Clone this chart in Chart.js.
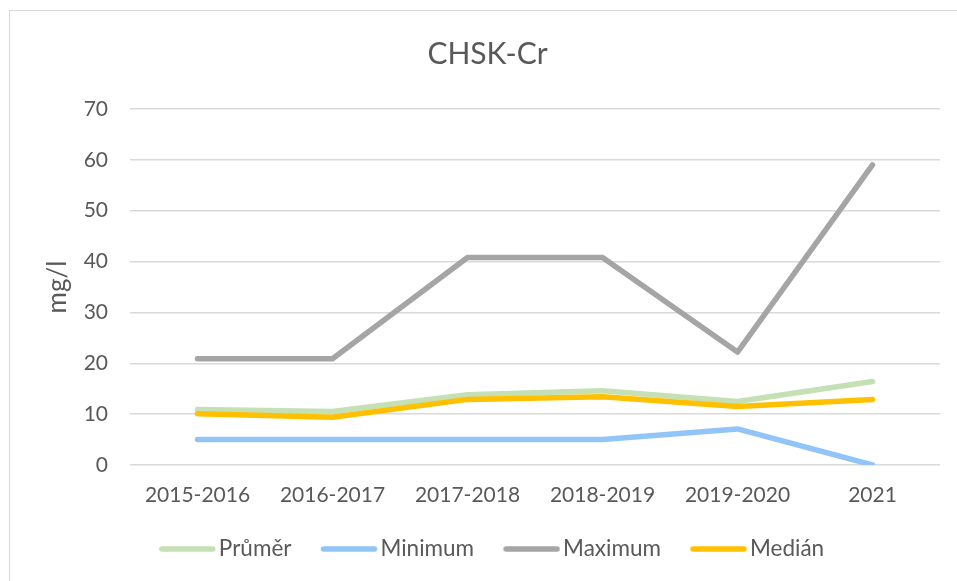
<!DOCTYPE html>
<html>
<head>
<meta charset="utf-8">
<script src="https://cdn.jsdelivr.net/npm/chart.js@4/dist/chart.umd.min.js"></script>
<style>
  html, body { margin: 0; padding: 0; background: #fff; overflow: hidden; }
  #wrap { position: relative; width: 957px; height: 581px; }
  #frame { position: absolute; left: 9px; top: 10px; width: 970px; height: 600px; border: 1.5px solid #d9d9d9; box-sizing: border-box; pointer-events: none; }
  canvas { position: absolute; left: 0; top: 0; }
</style>
</head>
<body>
<div id="wrap">
  <div id="frame"></div>
  <canvas id="c" width="957" height="581"></canvas>
</div>
<script>
const categories = ["2015-2016", "2016-2017", "2017-2018", "2018-2019", "2019-2020", "2021"];
const prumer  = [10.9, 10.5, 13.8, 14.6, 12.5, 16.4];
const minimum = [5, 5, 5, 5, 7.1, 0];
const maximum = [20.9, 20.9, 40.8, 40.8, 22.2, 59];
const median  = [10.1, 9.4, 12.9, 13.4, 11.5, 12.9];
const yTicks  = [0, 10, 20, 30, 40, 50, 60, 70];

const FONT = "Lato, 'Open Sans', sans-serif";
const TXT = "#595959";
const LEG_FS = 22.5;

// legend line sample drawn as an image so the gap to the text matches
function legendSample(color) {
  const cv = document.createElement('canvas');
  cv.width = 74; cv.height = 10;
  const g = cv.getContext('2d');
  g.strokeStyle = color; g.lineWidth = 5.5; g.lineCap = 'round';
  g.beginPath(); g.moveTo(16.625 + 3, 5); g.lineTo(73.625 - 3, 5); g.stroke();
  return cv;
}

function ds(label, data, color, order) {
  return {
    label, data, order,
    borderColor: color, backgroundColor: color,
    borderWidth: 5.5, pointRadius: 0, pointHoverRadius: 0,
    tension: 0, borderCapStyle: 'round', borderJoinStyle: 'round', fill: false
  };
}

const chart = new Chart(document.getElementById('c'), {
  type: 'line',
  data: {
    labels: categories,
    datasets: [
      ds("Průměr", prumer, "#C5E0B4", 4),
      ds("Minimum", minimum, "#92C5F7", 3),
      ds("Maximum", maximum, "#A5A5A5", 2),
      ds("Medián", median, "#FFC000", 1)
    ]
  },
  options: {
    responsive: false,
    animation: false,
    layout: { padding: { left: 35, right: 17, top: 0, bottom: 10.75 } },
    plugins: {
      tooltip: { enabled: false },
      title: {
        display: true, text: "CHSK-Cr", color: TXT,
        font: { family: FONT, size: 30, weight: 'normal' },
        padding: { top: 36, bottom: 37 }
      },
      legend: {
        position: 'bottom',
        labels: {
          color: TXT, font: { family: FONT, size: LEG_FS },
          usePointStyle: true, pointStyleWidth: 56.75, boxHeight: 6,
          padding: 21,
          sort: (a, b) => a.datasetIndex - b.datasetIndex,
          generateLabels(ch) {
            const items = Chart.defaults.plugins.legend.labels.generateLabels(ch);
            items.forEach(it => {
              it.pointStyle = legendSample(ch.data.datasets[it.datasetIndex].borderColor);
            });
            return items;
          }
        }
      }
    },
    scales: {
      x: {
        offset: true,
        grid: { display: false, drawTicks: false },
        border: { display: false },
        ticks: { color: TXT, font: { family: FONT, size: 21 }, padding: 18, maxRotation: 0 },
        afterFit(s) { s.height = 51.75; }
      },
      y: {
        min: 0, max: 70,
        afterBuildTicks(s) { s.ticks = yTicks.map(v => ({ value: v })); },
        grid: { color: "#d9d9d9", lineWidth: 1.5, drawTicks: false },
        border: { display: false },
        ticks: { color: TXT, font: { family: FONT, size: 21 }, padding: 22 },
        title: { display: true, text: "mg/l", color: TXT, font: { family: FONT, size: 26 }, padding: { top: 7, bottom: 0 } },
        afterFit(s) { s.width = 95; }
      }
    }
  }
});
</script>
</body>
</html>
